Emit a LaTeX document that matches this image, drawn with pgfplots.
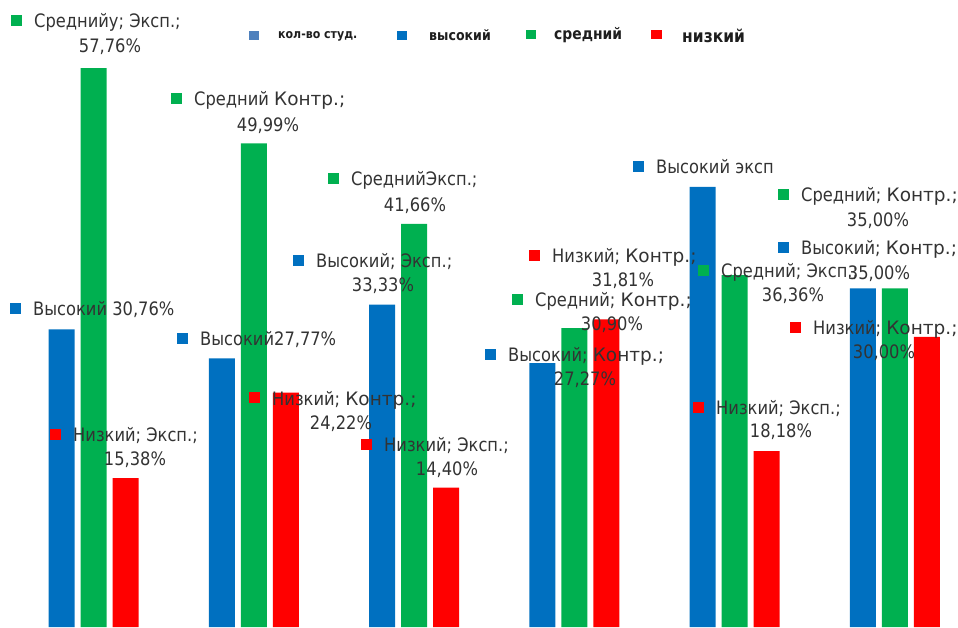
\documentclass[border=0pt]{standalone}
\usepackage{pgfplots}
\pgfplotsset{compat=1.18}
\usepackage{pgfplotstable}
\usepackage{fontspec}
\setmainfont{DejaVu Sans}
\newfontfamily\lbl[FakeStretch=0.88]{DejaVu Sans}
\newfontfamily\lblk[FakeStretch=1.0]{DejaVu Sans}
\newcommand{\K}{{\lblk Контр.;}}

\definecolor{cblue}{HTML}{0070C0}
\definecolor{cgreen}{HTML}{00B050}
\definecolor{cred}{HTML}{FF0000}
\definecolor{cstud}{HTML}{4F81BD}
\definecolor{ctext}{HTML}{333333}
\definecolor{clgd}{HTML}{1E1E1E}

% shares of students per level, six groups
\pgfplotstableread{
g val
1 30.76
2 27.77
3 33.33
4 27.27
5 45.50
6 35.00
}\high
\pgfplotstableread{
g val
1 57.76
2 49.99
3 41.66
4 30.90
5 36.36
6 35.00
}\mid
\pgfplotstableread{
g val
1 15.38
2 24.22
3 14.40
4 31.81
5 18.18
6 30.00
}\low

% data label: colour key, key left x, key centre y, text
\newcommand{\sq}[1]{\textcolor{#1}{\rule[1.5pt]{11pt}{11pt}}\hspace{12pt}}
\newcommand{\lab}[4]{\node[lbl, anchor=base west] at (#2,#3+7) {\sq{#1}#4};}
\newcommand{\val}[3]{\node[lbl, anchor=base] at (#1,#2+7) {#3};}

\begin{document}
\begin{tikzpicture}[
  lbl/.style={inner sep=0pt, text=ctext, font=\lbl\fontsize{18.5}{22}\selectfont},
  lgd/.style={inner sep=0pt, text=clgd, anchor=base west},
]
\begin{axis}[
  at={(0,0)}, anchor=south west,
  scale only axis, width=958pt, height=627pt,
  xmin=0.4167, xmax=6.3931, ymin=0, ymax=64.81,
  hide axis, clip=false,
  ybar, bar width=26pt,
]
\addplot[fill=cblue, draw=none, bar shift=-32pt] table[x=g, y=val] {\high};
\addplot[fill=cgreen, draw=none, bar shift=0pt] table[x=g, y=val] {\mid};
\addplot[fill=cred, draw=none, bar shift=32pt] table[x=g, y=val] {\low};
\end{axis}

\begin{scope}[x=1pt, y=-1pt, shift={(0pt,627pt)}]
% legend
\node[inner sep=0pt, anchor=north west] at (249,31) {\textcolor{cstud}{\rule{10pt}{9pt}}};
\node[lgd, font=\lbl\bfseries\fontsize{12.5}{14}\selectfont] at (278,38.5) {кол-во студ.};
\node[inner sep=0pt, anchor=north west] at (397,31) {\textcolor{cblue}{\rule{10pt}{9pt}}};
\node[lgd, font=\lbl\bfseries\fontsize{14.3}{16}\selectfont] at (429,41) {высокий};
\node[inner sep=0pt, anchor=north west] at (526,30) {\textcolor{cgreen}{\rule{10pt}{9pt}}};
\node[lgd, font=\lbl\bfseries\fontsize{15.8}{18}\selectfont] at (554,40) {средний};
\node[inner sep=0pt, anchor=north west] at (651,30) {\textcolor{cred}{\rule{11pt}{9pt}}};
\node[lgd, font=\lbl\bfseries\fontsize{17.6}{20}\selectfont] at (682,43) {низкий};

% group 1
\lab{cgreen}{11}{21}{Среднийу; Эксп.;}
\val{110}{46}{57,76\%}
\lab{cblue}{10}{308.5}{Высокий 30,76\%}
\lab{cred}{50}{434.5}{Низкий; Эксп.;}
\val{135}{458}{15,38\%}
% group 2
\lab{cgreen}{171}{99}{Средний \K}
\val{268}{125}{49,99\%}
\lab{cblue}{177}{338.5}{Высокий27,77\%}
\lab{cred}{249}{398}{Низкий; \K}
\val{341}{423}{24,22\%}
% group 3
\lab{cgreen}{328}{178.5}{СреднийЭксп.;}
\val{415}{205}{41,66\%}
\lab{cblue}{293}{260.5}{Высокий; Эксп.;}
\val{383}{285}{33,33\%}
\lab{cred}{361}{444.5}{Низкий; Эксп.;}
\val{447}{468}{14,40\%}
% group 4
\lab{cred}{529}{256}{Низкий; \K}
\val{623}{280}{31,81\%}
\lab{cgreen}{512}{299.5}{Средний; \K}
\val{612}{324}{30,90\%}
\lab{cblue}{485}{354.5}{Высокий; \K}
\val{585}{379}{27,27\%}
% group 5
\lab{cblue}{633}{167}{Высокий эксп}
\lab{cgreen}{698}{271}{Средний; Эксп.;}
\val{793}{295}{36,36\%}
\lab{cred}{693}{407.5}{Низкий; Эксп.;}
\val{781}{430}{18,18\%}
% group 6
\lab{cgreen}{778}{195}{Средний; \K}
\val{878}{220}{35,00\%}
\lab{cblue}{778}{248}{Высокий; \K}
\val{879}{273}{35,00\%}
\lab{cred}{790}{327.5}{Низкий; \K}
\val{884}{352}{30,00\%}
\end{scope}

\pgfresetboundingbox
\useasboundingbox (0,0) rectangle (958pt,627pt);
\end{tikzpicture}
\end{document}
